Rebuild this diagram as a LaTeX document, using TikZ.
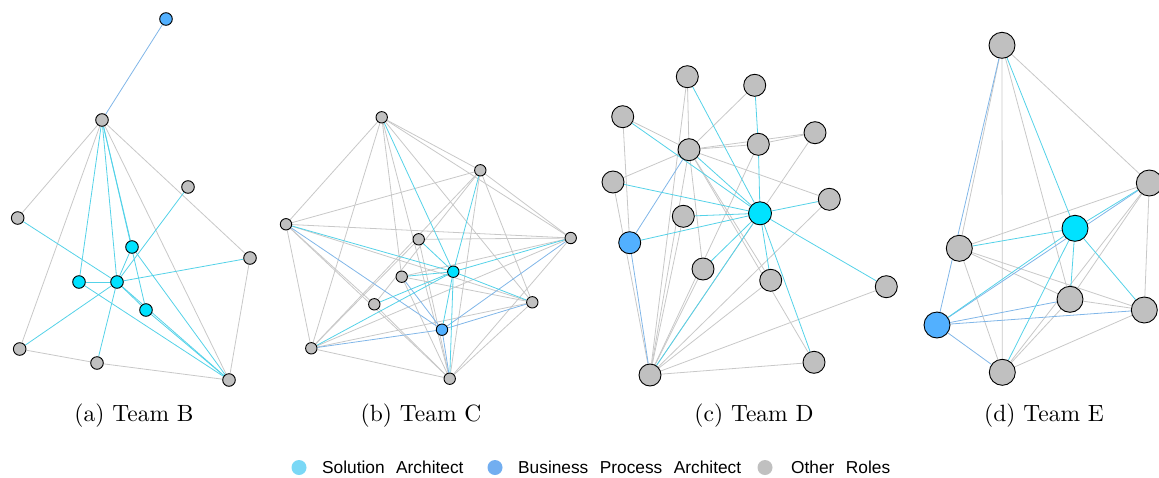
\documentclass[tikz,border=0pt]{standalone}
\usepackage{fontspec}
\newfontfamily\legendfont{Liberation Sans}
\newfontfamily\capfont{lmroman10-regular}[Extension=.otf]
\usetikzlibrary{backgrounds}
\newcommand\keyfont{\legendfont\fontsize{17.3}{20}\selectfont\spaceskip=11.5pt\relax}

% vertex fills
\definecolor{saFill}{RGB}{0,226,255}
\definecolor{bpaFill}{RGB}{82,176,255}
\definecolor{othFill}{RGB}{192,192,192}
% edge colours
\definecolor{saEdge}{RGB}{84,210,232}
\definecolor{bpaEdge}{RGB}{128,182,232}
\definecolor{othEdge}{RGB}{200,200,200}
% legend keys
\definecolor{saKey}{RGB}{122,216,246}
\definecolor{bpaKey}{RGB}{114,174,240}
\definecolor{othKey}{RGB}{192,192,192}

\begin{document}
\begin{tikzpicture}[x=1pt,y=-1pt,
  vtx/.style={circle,draw=black,line width=0.9pt,inner sep=0pt},
  sa/.style={vtx,fill=saFill},
  bpa/.style={vtx,fill=bpaFill},
  oth/.style={vtx,fill=othFill},
  ecy/.style={draw=saEdge,line width=0.8pt},
  ebl/.style={draw=bpaEdge,line width=0.8pt},
  egr/.style={draw=othEdge,line width=0.8pt},
  caption/.style={anchor=base,inner sep=0pt,font=\capfont\fontsize{23.5}{28}\selectfont},
  keydot/.style={circle,inner sep=0pt,minimum size=15pt},
  keytext/.style={anchor=base west,inner sep=0pt,font=\keyfont}
]
\useasboundingbox (0,0) rectangle (1159,477);

% ---------------- (a) Team B ----------------
\begin{scope}[vtx/.append style={minimum size=12.6pt}]
\node[bpa] (aB) at (166,19) {};
\node[oth] (a1) at (102,120) {};
\node[oth] (a2) at (188,187) {};
\node[oth] (a3) at (17.7,218) {};
\node[oth] (a4) at (250,258) {};
\node[sa]  (as1) at (132,247) {};
\node[sa]  (as2) at (79,282) {};
\node[sa]  (as3) at (117,282) {};
\node[sa]  (as4) at (146,310) {};
\node[oth] (a5) at (19.7,349) {};
\node[oth] (a6) at (97,363) {};
\node[oth] (a7) at (229,380) {};
\end{scope}
\begin{pgfonlayer}{background}
\foreach \u/\v in {a1/a3,a1/a5,a1/a7,a1/a4,a5/a6,a6/a7,a4/a7}
  \draw[egr] (\u) -- (\v);
\foreach \u/\v in {aB/a1}
  \draw[ebl] (\u) -- (\v);
\foreach \u/\v in {a1/as2,a1/as3,a1/as1,a1/as4,a2/as3,a3/as3,as2/as3,as3/a4,
                   as3/as1,as3/a5,as3/a6,as3/as4,as3/a7,as2/a7,as1/a7,as4/a7}
  \draw[ecy] (\u) -- (\v);
\end{pgfonlayer}
\node[caption] (capA) at (134,421) {(a) Team B};

% ---------------- (b) Team C ----------------
\begin{scope}[vtx/.append style={minimum size=11.4pt}]
\node[oth] (b1) at (381.7,117.3) {};
\node[oth] (b2) at (480.3,170.3) {};
\node[oth] (b3) at (286,224.3) {};
\node[oth] (b4) at (570.7,238) {};
\node[oth] (b5) at (418.7,239.3) {};
\node[sa]  (bS) at (453.3,271.7) {};
\node[oth] (b6) at (401.7,276.7) {};
\node[oth] (b7) at (374.3,304.3) {};
\node[oth] (b8) at (532.3,302.3) {};
\node[bpa] (bB) at (442,329.7) {};
\node[oth] (b9) at (311.3,348.3) {};
\node[oth] (b10) at (449.7,378.7) {};
\end{scope}
\begin{pgfonlayer}{background}
\foreach \u/\v in {b1/b2,b1/b4,b1/b3,b1/b9,b1/b6,b1/b10,b1/b8,b2/b3,b2/b4,
                   b2/b9,b2/b7,b2/b10,b2/b8,b3/b4,b3/b9,b3/b8,b3/b10,b4/b5,
                   b4/b9,b4/b10,b5/b9,b5/b10,b6/b8,b6/b10,b7/b10,b9/b10,
                   b8/b9,b8/b10,b4/b6,b3/b7}
  \draw[egr] (\u) -- (\v);
\foreach \u/\v in {b3/bB,b6/bB,b4/bB,b8/bB,b9/bB,bB/b10}
  \draw[ebl] (\u) -- (\v);
\foreach \u/\v in {b1/bS,b2/bS,b3/bS,b4/bS,b5/bS,b6/bS,b7/bS,b8/bS,b9/bS,
                   bS/bB,bS/b10}
  \draw[ecy] (\u) -- (\v);
\end{pgfonlayer}
\node[caption] (capB) at (421,421) {(b) Team C};

% ---------------- (c) Team D ----------------
\begin{scope}[vtx/.append style={minimum size=22pt}]
\node[oth] (c1) at (687.3,76.7) {};
\node[oth] (c2) at (754.7,85.3) {};
\node[oth] (c3) at (622.7,116.7) {};
\node[oth] (c4) at (815,132.7) {};
\node[oth] (c5) at (689,149.7) {};
\node[oth] (c6) at (758.3,144.3) {};
\node[oth] (c7) at (613,182) {};
\node[oth] (c8) at (829.3,199.3) {};
\node[oth] (c9) at (683.3,216.3) {};
\node[sa,minimum size=23pt] (cS) at (760,213.3) {};
\node[bpa] (cB) at (629.7,242.7) {};
\node[oth] (c10) at (703,269) {};
\node[oth] (c11) at (770.7,280.3) {};
\node[oth] (c12) at (886.3,286.7) {};
\node[oth] (c13) at (814,362.3) {};
\node[oth] (c14) at (650,375) {};
\end{scope}
\begin{pgfonlayer}{background}
\foreach \u/\v in {c1/c5,c1/c14,c2/c5,c3/c5,c3/cB,c4/c6,c4/c14,c5/c6,c5/c4,
                   c5/c7,c5/c8,c5/c10,c5/c11,c5/c13,c5/c14,c6/c14,c7/c14,
                   c8/c14,c9/c14,c10/c14,c11/c14,c12/c14,c13/c14}
  \draw[egr] (\u) -- (\v);
\foreach \u/\v in {c5/cB,cB/c14}
  \draw[ebl] (\u) -- (\v);
\foreach \u/\v in {c1/cS,c2/c6,c3/cS,c5/cS,c6/cS,c7/cS,c8/cS,c9/cS,cB/cS,
                   c10/cS,cS/c11,cS/c12,cS/c13,cS/c14}
  \draw[ecy] (\u) -- (\v);
\end{pgfonlayer}
\node[caption] (capC) at (754,421) {(c) Team D};

% ---------------- (d) Team E ----------------
\begin{scope}[vtx/.append style={minimum size=26pt}]
\node[oth] (d1) at (1002,45.3) {};
\node[oth] (d2) at (1149.3,183) {};
\node[sa]  (dS) at (1075,228.3) {};
\node[oth] (d3) at (959.3,248.3) {};
\node[oth] (d4) at (1070,299.3) {};
\node[oth] (d5) at (1144.3,310) {};
\node[bpa] (dB) at (937,325) {};
\node[oth] (d6) at (1002.3,372.3) {};
\end{scope}
\begin{pgfonlayer}{background}
\foreach \u/\v in {d1/d2,d1/d4,d1/d6,d1/d3,d2/d3,d2/d4,d2/d6,d2/d5,d3/d4,
                   d3/d5,d3/d6,d4/d5,d4/d6,d5/d6}
  \draw[egr] (\u) -- (\v);
\foreach \u/\v in {d1/dB,dB/d2,dB/d4,dB/d5,dB/d6}
  \draw[ebl] (\u) -- (\v);
\foreach \u/\v in {d1/dS,d2/dS,dS/d3,dS/dB,dS/d4,dS/d5,dS/d6}
  \draw[ecy] (\u) -- (\v);
\end{pgfonlayer}
\node[caption] (capD) at (1044,421) {(d) Team E};

% ---------------- legend ----------------
\node[keydot,fill=saKey]  (kSA)  at (299,467.5) {};
\node[keytext] (tSA)  at (322,473) {Solution Architect};
\node[keydot,fill=bpaKey] (kBPA) at (495,467.5) {};
\node[keytext] (tBPA) at (518,473) {Business Process Architect};
\node[keydot,fill=othKey] (kOTH) at (765,467.5) {};
\node[keytext] (tOTH) at (791,473) {Other Roles};
\end{tikzpicture}
\end{document}
